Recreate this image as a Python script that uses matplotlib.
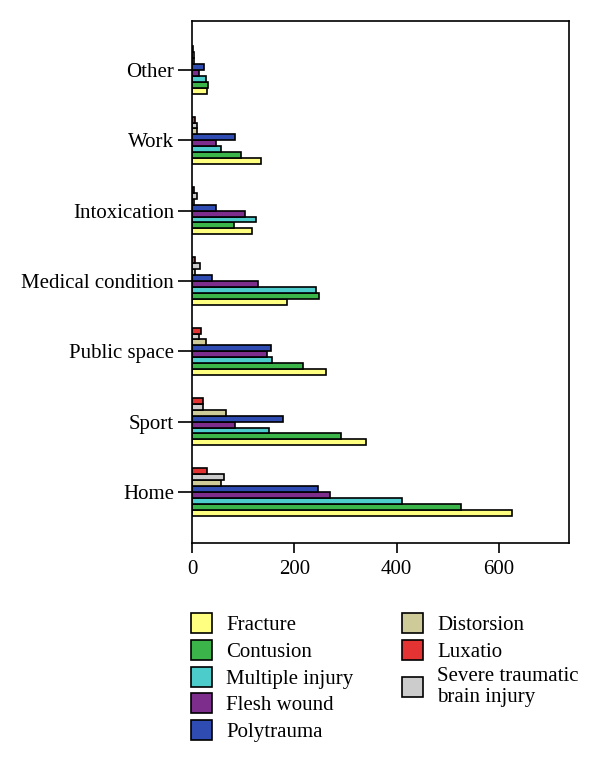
import matplotlib
matplotlib.use("Agg")
import matplotlib.pyplot as plt
import numpy as np
from matplotlib.patches import Patch

# categories, bottom to top
categories = ['Home', 'Sport', 'Public space', 'Medical condition', 'Intoxication', 'Work', 'Other']

# bar series, drawn bottom to top inside each group
fracture = [625, 340, 263, 185, 117, 135, 29]
contusion = [526, 291, 218, 249, 82, 95, 32]
multiple_injury = [411, 151, 156, 242, 126, 56, 27]
flesh_wound = [270, 84, 147, 130, 103, 46, 13]
polytrauma = [246, 178, 155, 39, 46, 85, 24]
distorsion = [57, 67, 28, 5, 3, 9, 3]
stbi = [62, 21, 14, 16, 10, 10, 3]
luxatio = [29, 21, 18, 6, 3, 5, 2]

series = [
    ('Fracture', fracture, '#ffff80'),
    ('Contusion', contusion, '#3bb54a'),
    ('Multiple injury', multiple_injury, '#4dcccc'),
    ('Flesh wound', flesh_wound, '#7d2e8c'),
    ('Polytrauma', polytrauma, '#2f4cb3'),
    ('Distorsion', distorsion, '#cfcb98'),
    ('Severe traumatic\nbrain injury', stbi, '#cccccc'),
    ('Luxatio', luxatio, '#e33333'),
]

plt.rcParams['font.family'] = ['Liberation Serif', 'DejaVu Serif']

fig = plt.figure(figsize=(6, 7.61), dpi=100)
ax = fig.add_axes([0.32, 0.2865, 0.628, 0.686])

y = np.arange(len(categories))
h = 0.084
n = len(series)
handles = {}
for i, (name, vals, col) in enumerate(series):
    off = (i - (n - 1) / 2) * h
    ax.barh(y + off, vals, height=h, color=col, edgecolor='black', linewidth=1.2)
    handles[name] = Patch(facecolor=col, edgecolor='black', linewidth=1.2)

ax.set_yticks(y)
ax.set_yticklabels(categories, fontsize=15)
ax.set_xticks([0, 200, 400, 600])
ax.set_xlim(0, 737)
ax.set_ylim(-0.725, 6.697)
ax.tick_params(axis='x', labelsize=15, length=7, width=1.2, pad=5)
ax.tick_params(axis='y', length=10, width=1.2, pad=3)
for s in ax.spines.values():
    s.set_linewidth(1.2)

order = ['Fracture', 'Contusion', 'Multiple injury', 'Flesh wound', 'Polytrauma',
         'Distorsion', 'Luxatio', 'Severe traumatic\nbrain injury']
hs = [handles[k] for k in order]
labs = list(order)
blank = Patch(facecolor='none', edgecolor='none')
hs += [blank, blank]
labs += ['', '']
fig.legend(hs, labs, ncol=2, loc='upper left', bbox_to_anchor=(0.319, 0.194),
           frameon=False, fontsize=15, handlelength=1.0, handleheight=1.1,
           handletextpad=0.67, columnspacing=2.35, labelspacing=0.22,
           borderpad=0.0, borderaxespad=0.0)

fig.savefig('out.png', dpi=100)
